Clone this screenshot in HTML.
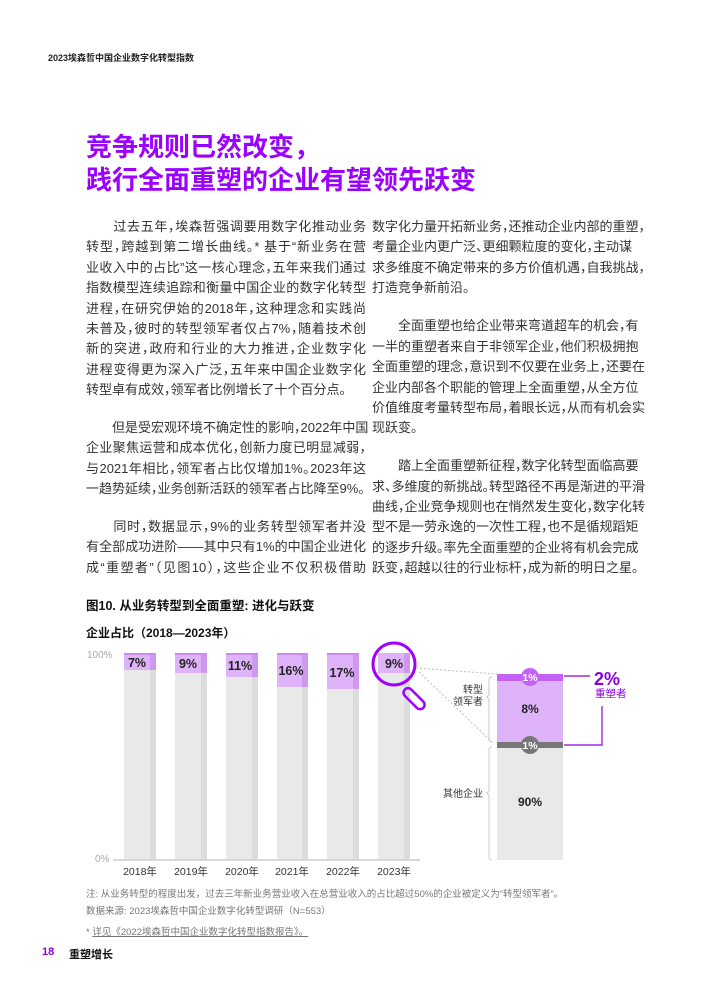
<!DOCTYPE html>
<html><head><meta charset="utf-8">
<style>
*{margin:0;padding:0;box-sizing:border-box}
body{width:710px;height:1004px;background:#fff;position:relative;overflow:hidden;font-family:"Liberation Sans","Noto Sans CJK SC",sans-serif;color:#222}
.a{position:absolute;white-space:nowrap}
.l{position:absolute;font-size:13px;line-height:16px;height:16px;color:#333;text-align:justify;text-align-last:justify;white-space:nowrap;font-feature-settings:"halt" 1;overflow:visible}
.l.e{text-align-last:left}
.L{left:86px;width:280px}
.R{left:372px;width:256px}
</style></head><body>
<div class="a" style="left:48px;top:51px;font-size:9px;font-weight:bold;color:#222">2023埃森哲中国企业数字化转型指数</div>
<div class="a" style="left:86px;top:131px;font-size:26px;line-height:33px;font-weight:bold;color:#9c00ff">竞争规则已然改变，<br>践行全面重塑的企业有望领先跃变</div>

<div class="l L" style="top:219px">　　过去五年，埃森哲强调要用数字化推动业务</div>
<div class="l L" style="top:239px">转型，跨越到第二增长曲线。* 基于“新业务在营</div>
<div class="l L" style="top:260px">业收入中的占比”这一核心理念，五年来我们通过</div>
<div class="l L" style="top:280px">指数模型连续追踪和衡量中国企业的数字化转型</div>
<div class="l L" style="top:301px">进程，在研究伊始的2018年，这种理念和实践尚</div>
<div class="l L" style="top:321px">未普及，彼时的转型领军者仅占7%，随着技术创</div>
<div class="l L" style="top:341px">新的突进，政府和行业的大力推进，企业数字化</div>
<div class="l L" style="top:362px">进程变得更为深入广泛，五年来中国企业数字化</div>
<div class="l L e" style="top:382px">转型卓有成效，领军者比例增长了十个百分点。</div>
<div class="l L" style="top:420px">　　但是受宏观环境不确定性的影响，2022年中国</div>
<div class="l L" style="top:440px">企业聚焦运营和成本优化，创新力度已明显减弱，</div>
<div class="l L" style="top:461px">与2021年相比，领军者占比仅增加1%。2023年这</div>
<div class="l L e" style="top:481px">一趋势延续，业务创新活跃的领军者占比降至9%。</div>
<div class="l L" style="top:519px">　　同时，数据显示，9%的业务转型领军者并没</div>
<div class="l L" style="top:539px">有全部成功进阶——其中只有1%的中国企业进化</div>
<div class="l L" style="top:560px">成“重塑者”（见图10），这些企业不仅积极借助</div>

<div class="l R" style="top:219px">数字化力量开拓新业务，还推动企业内部的重塑，</div>
<div class="l R" style="top:239px">考量企业内更广泛、更细颗粒度的变化，主动谋</div>
<div class="l R" style="top:260px">求多维度不确定带来的多方价值机遇，自我挑战，</div>
<div class="l R e" style="top:280px">打造竞争新前沿。</div>
<div class="l R" style="top:318px">　　全面重塑也给企业带来弯道超车的机会，有</div>
<div class="l R" style="top:339px">一半的重塑者来自于非领军企业，他们积极拥抱</div>
<div class="l R" style="top:359px">全面重塑的理念，意识到不仅要在业务上，还要在</div>
<div class="l R" style="top:380px">企业内部各个职能的管理上全面重塑，从全方位</div>
<div class="l R" style="top:400px">价值维度考量转型布局，着眼长远，从而有机会实</div>
<div class="l R e" style="top:420px">现跃变。</div>
<div class="l R" style="top:458px">　　踏上全面重塑新征程，数字化转型面临高要</div>
<div class="l R" style="top:479px">求、多维度的新挑战。转型路径不再是渐进的平滑</div>
<div class="l R" style="top:499px">曲线，企业竞争规则也在悄然发生变化，数字化转</div>
<div class="l R" style="top:519px">型不是一劳永逸的一次性工程，也不是循规蹈矩</div>
<div class="l R" style="top:540px">的逐步升级。率先全面重塑的企业将有机会完成</div>
<div class="l R" style="top:560px">跃变，超越以往的行业标杆，成为新的明日之星。</div>

<div class="a" style="left:86px;top:595px;font-size:12.5px;font-weight:bold;color:#111">图10. 从业务转型到全面重塑: 进化与跃变</div>
<div class="a" style="left:86px;top:624px;font-size:12px;font-weight:bold;color:#111">企业占比（2018—2023年）</div>

<svg class="a" style="left:0;top:0" width="710" height="1004" font-family="Liberation Sans, Noto Sans CJK SC, sans-serif">
<text x="87" y="658" font-size="10" fill="#aaa">100%</text>
<text x="95" y="862" font-size="10" fill="#aaa">0%</text>
<line x1="113" y1="860" x2="420" y2="860" stroke="#ccc" stroke-width="1.5"/>
<g>
<rect x="124" y="653" width="32" height="206" fill="#e9e9e9"/><rect x="150" y="653" width="6" height="206" fill="#dcdcdc"/>
<rect x="124" y="653" width="32" height="17" fill="#deb3f9"/><rect x="150" y="653" width="6" height="17" fill="#cd98ee"/>
<rect x="124" y="653" width="32" height="2" fill="#c98af2"/>
<text x="137" y="667" font-size="12.5" font-weight="bold" text-anchor="middle" fill="#222">7%</text>
<text x="140" y="875" font-size="10.5" text-anchor="middle" fill="#333">2018年</text>

<rect x="175" y="653" width="32" height="206" fill="#e9e9e9"/><rect x="201" y="653" width="6" height="206" fill="#dcdcdc"/>
<rect x="175" y="653" width="32" height="20" fill="#deb3f9"/><rect x="201" y="653" width="6" height="20" fill="#cd98ee"/>
<rect x="175" y="653" width="32" height="2" fill="#c98af2"/>
<text x="188" y="668" font-size="12.5" font-weight="bold" text-anchor="middle" fill="#222">9%</text>
<text x="191" y="875" font-size="10.5" text-anchor="middle" fill="#333">2019年</text>

<rect x="226" y="653" width="32" height="206" fill="#e9e9e9"/><rect x="252" y="653" width="6" height="206" fill="#dcdcdc"/>
<rect x="226" y="653" width="32" height="24" fill="#deb3f9"/><rect x="252" y="653" width="6" height="24" fill="#cd98ee"/>
<rect x="226" y="653" width="32" height="2" fill="#c98af2"/>
<text x="240" y="670" font-size="12.5" font-weight="bold" text-anchor="middle" fill="#222">11%</text>
<text x="242" y="875" font-size="10.5" text-anchor="middle" fill="#333">2020年</text>

<rect x="277" y="653" width="31" height="206" fill="#e9e9e9"/><rect x="302" y="653" width="6" height="206" fill="#dcdcdc"/>
<rect x="277" y="653" width="31" height="34" fill="#deb3f9"/><rect x="302" y="653" width="6" height="34" fill="#cd98ee"/>
<rect x="277" y="653" width="31" height="2" fill="#c98af2"/>
<text x="291" y="675" font-size="12.5" font-weight="bold" text-anchor="middle" fill="#222">16%</text>
<text x="292" y="875" font-size="10.5" text-anchor="middle" fill="#333">2021年</text>

<rect x="327" y="653" width="32" height="206" fill="#e9e9e9"/><rect x="353" y="653" width="6" height="206" fill="#dcdcdc"/>
<rect x="327" y="653" width="32" height="36" fill="#deb3f9"/><rect x="353" y="653" width="6" height="36" fill="#cd98ee"/>
<rect x="327" y="653" width="32" height="2" fill="#c98af2"/>
<text x="342" y="677" font-size="12.5" font-weight="bold" text-anchor="middle" fill="#222">17%</text>
<text x="343" y="875" font-size="10.5" text-anchor="middle" fill="#333">2022年</text>

<rect x="378" y="653" width="32" height="206" fill="#e9e9e9"/><rect x="404" y="653" width="6" height="206" fill="#dcdcdc"/>
<rect x="378" y="653" width="32" height="20" fill="#deb3f9"/><rect x="404" y="653" width="6" height="20" fill="#cd98ee"/>
<text x="394" y="668" font-size="12.5" font-weight="bold" text-anchor="middle" fill="#222">9%</text>
<text x="394" y="875" font-size="10.5" text-anchor="middle" fill="#333">2023年</text>
</g>
<circle cx="394" cy="664" r="21" fill="none" stroke="#a100ff" stroke-width="3"/>
<rect x="409" y="690" width="26" height="9" rx="4.5" transform="rotate(45 413 687)" fill="none" stroke="#a100ff" stroke-width="2.5"/>
<line x1="416" y1="668" x2="497" y2="674" stroke="#bbb" stroke-dasharray="2,2"/>
<line x1="419" y1="672" x2="492" y2="742" stroke="#bbb" stroke-dasharray="2,2"/>
<rect x="497" y="674" width="66" height="186" fill="#e9e9e9"/>
<rect x="497" y="674" width="66" height="68" fill="#deb3f9"/>
<rect x="497" y="674" width="66" height="7" fill="#c462f7"/>
<rect x="497" y="742" width="66" height="6" fill="#777"/>
<circle cx="530" cy="677" r="9" fill="#c462f7"/>
<text x="530" y="681" font-size="10.5" font-weight="bold" text-anchor="middle" fill="#fff">1%</text>
<circle cx="530" cy="745" r="9" fill="#777"/>
<text x="530" y="749" font-size="10.5" font-weight="bold" text-anchor="middle" fill="#fff">1%</text>
<text x="530" y="713" font-size="12" font-weight="bold" text-anchor="middle" fill="#222">8%</text>
<text x="530" y="806" font-size="12" font-weight="bold" text-anchor="middle" fill="#222">90%</text>
<path d="M492 677 Q489 677 489 680 L489 695 L487 697 L489 699 L489 739 Q489 742 492 742" fill="none" stroke="#d7b8ee" stroke-width="1"/>
<path d="M492 747 Q489 747 489 750 L489 791 L487 793 L489 795 L489 857 Q489 860 492 860" fill="none" stroke="#ccc" stroke-width="1"/>
<text x="483" y="693" font-size="10" text-anchor="end" fill="#333">转型</text>
<text x="483" y="705" font-size="10" text-anchor="end" fill="#333">领军者</text>
<text x="483" y="797" font-size="10" text-anchor="end" fill="#333">其他企业</text>
<line x1="564" y1="676" x2="590" y2="676" stroke="#8f00dd" stroke-width="1.2"/>
<path d="M602 706 L602 745 L564 745" fill="none" stroke="#8f00dd" stroke-width="1.2"/>
<text x="594" y="685" font-size="18" font-weight="bold" fill="#8a00d8">2%</text>
<text x="595" y="697" font-size="10.5" fill="#8a00d8">重塑者</text>
</svg>

<div class="a" style="left:86px;top:886px;font-size:9.5px;color:#777">注: 从业务转型的程度出发，过去三年新业务营业收入在总营业收入的占比超过50%的企业被定义为“转型领军者”。</div>
<div class="a" style="left:86px;top:903px;font-size:9.5px;color:#777">数据来源: 2023埃森哲中国企业数字化转型调研（N=553）</div>
<div class="a" style="left:86px;top:924px;font-size:9.5px;color:#777">* <span style="text-decoration:underline">详见《2022埃森哲中国企业数字化转型指数报告》。</span></div>
<div class="a" style="left:42px;top:946px;font-size:11px;font-weight:bold;color:#8a00d8">18</div>
<div class="a" style="left:69px;top:946px;font-size:11px;font-weight:bold;color:#111">重塑增长</div>
</body></html>
